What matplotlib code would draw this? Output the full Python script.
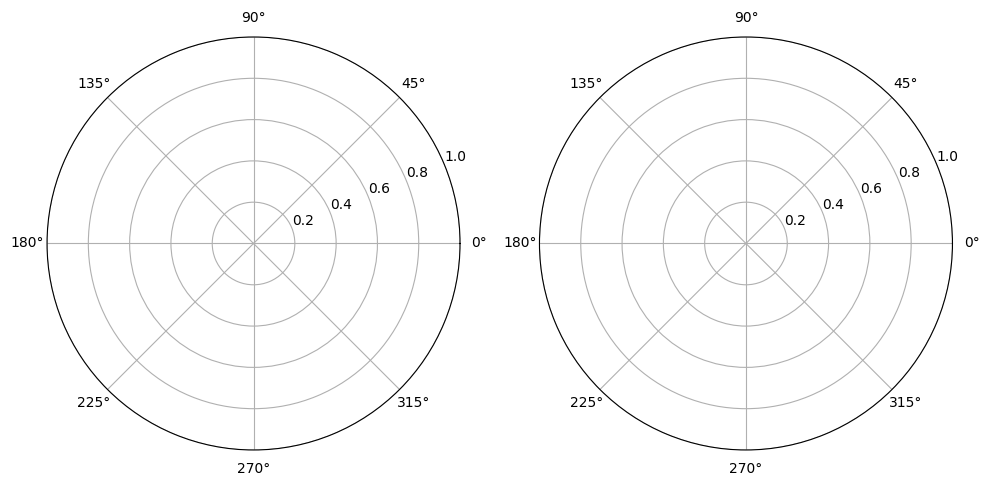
import numpy as np
import matplotlib
matplotlib.use("Agg")
import matplotlib.pyplot as plt

# two empty polar panels, default ticks
panel_count = 2
r_ticks = [0.2, 0.4, 0.6, 0.8, 1.0]
theta_ticks = [0, 45, 90, 135, 180, 225, 270, 315]

fig, axes = plt.subplots(1, panel_count, subplot_kw={"projection": "polar"}, figsize=(9.9, 4.86), dpi=100)

# panel boxes in figure fractions (left, bottom, width, height)
boxes = [[0.0475, 0.0741, 0.4172, 0.8498],
         [0.5449, 0.0741, 0.4172, 0.8498]]

for ax, box in zip(axes, boxes):
    ax.set_rlim(0, 1.0)
    ax.set_rticks(r_ticks)
    ax.set_thetagrids(theta_ticks)
    ax.set_position(box)

plt.savefig("out.png", dpi=100)
